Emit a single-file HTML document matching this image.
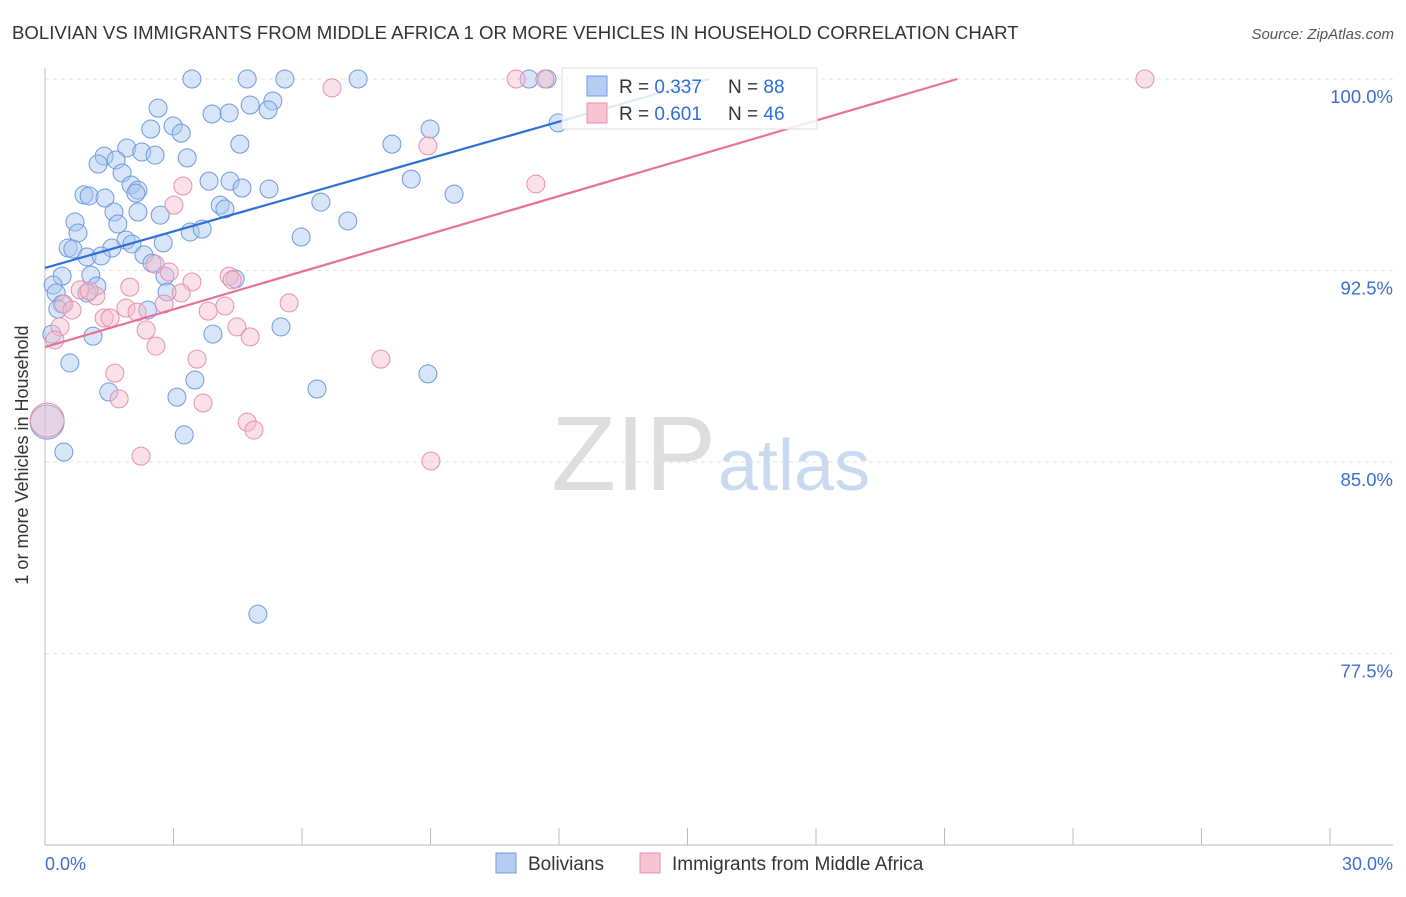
<!DOCTYPE html>
<html><head><meta charset="utf-8"><style>
body{margin:0;background:#fff;font-family:"Liberation Sans",sans-serif;}
svg text{font-family:"Liberation Sans",sans-serif;}
</style></head><body>
<svg width="1406" height="892">
<text x="12" y="39" font-size="18.6" fill="#333">BOLIVIAN VS IMMIGRANTS FROM MIDDLE AFRICA 1 OR MORE VEHICLES IN HOUSEHOLD CORRELATION CHART</text>
<text x="1394" y="39" font-size="15" fill="#555" text-anchor="end" font-style="italic">Source: ZipAtlas.com</text>
<g id="grid"></g>
<text x="716" y="490" font-size="106" fill="#ddd" text-anchor="end" font-family="Liberation Serif">ZIP</text>
<text x="718" y="490" font-size="72" fill="#c9daf0">atlas</text>
<g id="pts"></g>
<g id="lines"></g>
<text x="28" y="455" font-size="18" fill="#333" text-anchor="middle" transform="rotate(-90 28 455)">1 or more Vehicles in Household</text>
<text x="45" y="870" font-size="18" fill="#3a6fd0">0.0%</text>
<text x="1393" y="870" font-size="18" fill="#3a6fd0" text-anchor="end">30.0%</text>
<g>
<rect x="562" y="68" width="255" height="61" fill="#fff" fill-opacity="0.85" stroke="#ddd"/>
<rect x="587" y="76" width="20" height="20" fill="#b5cdf2" stroke="#6f9ae0"/>
<text x="619" y="93" font-size="19" fill="#333">R = <tspan fill="#2f6fd8">0.337</tspan><tspan x="728">N = </tspan><tspan fill="#2f6fd8">88</tspan></text>
<rect x="587" y="103" width="20" height="20" fill="#f7c4d4" stroke="#e890ac"/>
<text x="619" y="120" font-size="19" fill="#333">R = <tspan fill="#2f6fd8">0.601</tspan><tspan x="728">N = </tspan><tspan fill="#2f6fd8">46</tspan></text>
</g>
<g>
<rect x="496" y="853" width="20" height="20" fill="#b5cdf2" stroke="#6f9ae0"/>
<text x="528" y="870" font-size="19" fill="#333">Bolivians</text>
<rect x="640" y="853" width="20" height="20" fill="#f7c4d4" stroke="#e890ac"/>
<text x="672" y="870" font-size="19" fill="#333">Immigrants from Middle Africa</text>
</g>
</svg>
<script>
const yTicks=[100,92.5,85,77.5];
const yTickLabels=["100.0%","92.5%","85.0%","77.5%"];
const xTicks=[0,3,6,9,12,15,18,21,24,27,30];
const blueX=[3.43,4.72,5.60,7.31,11.30,11.72,2.64,4.79,5.32,3.90,4.30,5.21,2.47,2.99,3.18,8.99,11.98,1.91,2.26,2.57,3.32,4.55,8.10,1.38,1.66,1.24,1.80,2.01,2.17,2.12,3.83,4.32,4.60,5.23,8.55,9.55,0.91,1.03,1.40,1.61,2.17,2.69,4.09,4.20,6.44,7.07,0.70,0.77,1.70,1.89,2.03,2.76,3.39,3.67,5.98,0.54,0.65,1.56,0.98,1.31,2.31,2.50,0.40,1.07,2.80,4.44,0.19,1.21,0.26,2.85,0.40,0.98,0.30,2.40,0.16,1.12,3.92,5.51,0.58,3.50,6.35,8.94,1.49,3.08,0.05,0.44,3.25,4.97];
const blueY=[100,100,100,100,100,100,98.86,98.98,99.14,98.63,98.67,98.79,98.04,98.16,97.88,98.04,98.28,97.30,97.14,97.02,96.91,97.45,97.45,96.98,96.83,96.67,96.32,95.85,95.65,95.53,96.00,96.00,95.73,95.69,96.08,95.49,95.46,95.42,95.34,94.79,94.79,94.67,95.06,94.91,95.18,94.44,94.40,93.97,94.32,93.69,93.54,93.58,94.01,94.12,93.81,93.38,93.34,93.38,93.03,93.07,93.11,92.79,92.28,92.32,92.28,92.17,91.93,91.89,91.62,91.66,91.19,91.62,90.99,90.95,90.01,89.93,90.01,90.29,88.88,88.21,87.86,88.45,87.74,87.54,86.56,85.39,86.06,79.04];
const pinkX=[11.00,11.67,25.68,6.70,8.94,11.46,3.22,3.01,2.57,2.90,3.43,4.30,4.37,5.70,1.98,3.18,0.82,1.19,1.03,0.44,0.63,2.78,4.20,3.81,1.89,2.15,1.38,1.52,0.35,2.36,4.48,4.79,0.23,2.59,3.55,7.84,1.63,1.73,3.69,4.72,4.88,2.24,9.01,0.05];
const pinkY=[100,100,100,99.65,97.38,95.89,95.81,95.06,92.75,92.44,92.05,92.28,92.13,91.23,91.85,91.62,91.74,91.50,91.70,91.19,90.95,91.19,91.11,90.91,91.03,90.87,90.64,90.64,90.29,90.17,90.29,89.90,89.78,89.54,89.03,89.03,88.48,87.47,87.31,86.56,86.25,85.23,85.04,86.64];
const blueTrend=[[0,92.6],[15.5,100]];
const pinkTrend=[[0,89.5],[21.3,100]];
const X=v=>45+v*1285/30;
const Y=v=>79+(100-v)*191.5/7.5;
const NS="http://www.w3.org/2000/svg";
function mk(t,a,p){const e=document.createElementNS(NS,t);for(const k in a)e.setAttribute(k,a[k]);p.appendChild(e);return e;}
const g=document.getElementById('grid');
yTicks.forEach((t,i)=>{
 const l=mk('line',{x1:45,x2:1393,y1:Y(t),y2:Y(t),stroke:'#e2e2e2','stroke-dasharray':'4,4'},g);
 
 
 const tx=mk('text',{x:1393,y:Y(t)+24,'font-size':18.5,fill:'#3a6fd0','text-anchor':'end'},g);
 tx.textContent=yTickLabels[i];
 
 
});
const ax=mk('line',{x1:45,x2:45,y1:68,y2:845,stroke:'#bbb'},g);


const bx=mk('line',{x1:45,x2:1393,y1:845,y2:845,stroke:'#bbb'},g);


xTicks.forEach(t=>{
 const l=mk('line',{x1:X(t),x2:X(t),y1:828,y2:845,stroke:'#bbb'},g);
 
 
});
const p=document.getElementById('pts');
function dots(xs,ys,fill,stroke,name){xs.forEach((x,i)=>{
 const r=(x<0.1)?17:9;
 const c=mk('circle',{cx:X(x),cy:Y(ys[i]),r:r,fill:fill,'fill-opacity':0.45,stroke:stroke,'stroke-width':1},p);
 
 
});}
dots(blueX,blueY,'#a9c6f0','#6f9ae0','bolivian-point');
dots(pinkX,pinkY,'#f5bccd','#e890ac','middle-africa-point');
const L=document.getElementById('lines');
const b=mk('line',{x1:X(blueTrend[0][0]),y1:Y(blueTrend[0][1]),x2:X(blueTrend[1][0]),y2:Y(blueTrend[1][1]),stroke:'#2f6fd8','stroke-width':2.2},L);


const pk=mk('line',{x1:X(pinkTrend[0][0]),y1:Y(pinkTrend[0][1]),x2:X(pinkTrend[1][0]),y2:Y(pinkTrend[1][1]),stroke:'#e8709a','stroke-width':2.2},L);


</script>
</body></html>
